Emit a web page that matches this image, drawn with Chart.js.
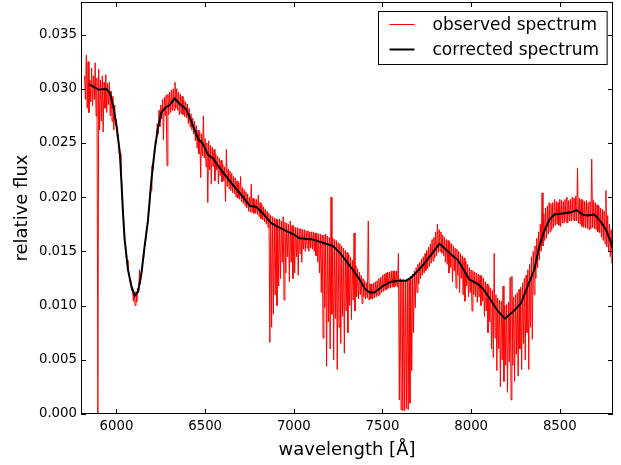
<!DOCTYPE html>
<html>
<head>
<meta charset="utf-8">
<script src="https://cdn.jsdelivr.net/npm/chart.js@4.4.0/dist/chart.umd.min.js"></script>
<style>
  html, body { margin: 0; padding: 0; background: #fff; }
</style>
</head>
<body>
<canvas id="spec" width="621" height="465"></canvas>
<script>
// axis ticks
const xTicks = [6000, 6500, 7000, 7500, 8000, 8500];
const yTicks = [0.000, 0.005, 0.010, 0.015, 0.020, 0.025, 0.030, 0.035];

// corrected spectrum (black)
const corrWave = [5846, 5900, 5942, 5963, 5982, 6000, 6019, 6028, 6037, 6046,
    6065, 6084, 6103, 6122, 6141, 6159, 6178, 6197, 6216, 6234,
    6253, 6272, 6300, 6328, 6357, 6394, 6424, 6460, 6488, 6516,
    6544, 6572, 6610, 6648, 6704, 6752, 6789, 6826, 6873, 6930,
    6995, 7033, 7108, 7164, 7220, 7258, 7296, 7333, 7371, 7399,
    7427, 7455, 7502, 7549, 7596, 7634, 7662, 7699, 7737, 7775,
    7821, 7850, 7887, 7925, 7962, 7990, 8037, 8065, 8103, 8150,
    8190, 8234, 8281, 8319, 8356, 8385, 8413, 8441, 8469, 8516,
    8563, 8595, 8629, 8657, 8695, 8723, 8761, 8789, 8800];
const corrFlux = [0.0304, 0.0299, 0.0300, 0.0296, 0.0284, 0.0266, 0.0241, 0.0214, 0.0185, 0.0161,
    0.0133, 0.0118, 0.0109, 0.0113, 0.0130, 0.0155, 0.0179, 0.0216, 0.0244, 0.0264,
    0.0278, 0.0282, 0.0285, 0.0291, 0.0286, 0.0281, 0.0269, 0.0254, 0.0249, 0.0239,
    0.0236, 0.0229, 0.0221, 0.0213, 0.0202, 0.0192, 0.0191, 0.0185, 0.0176, 0.0171,
    0.0166, 0.0162, 0.0161, 0.0158, 0.0155, 0.0149, 0.0141, 0.0133, 0.0124, 0.0116,
    0.0112, 0.0112, 0.0118, 0.0122, 0.0123, 0.0123, 0.0126, 0.0132, 0.0139, 0.0147,
    0.0157, 0.0153, 0.0147, 0.0142, 0.0132, 0.0124, 0.0120, 0.0116, 0.0107, 0.0095,
    0.0088, 0.0094, 0.0102, 0.0118, 0.0133, 0.0155, 0.0169, 0.0179, 0.0184, 0.0185,
    0.0186, 0.0188, 0.0184, 0.0183, 0.0184, 0.0179, 0.0170, 0.0158, 0.0152];

// observed spectrum (red): upper and lower envelope per 10 A bin, from 5820 A
// one row = 100 A
const obsStart = 5820;
const obsStep = 10;
const obsHigh = [
    0.0312, 0.0331, 0.0325, 0.0308, 0.0319, 0.0312, 0.0324, 0.0310, 0.0318, 0.0308,
    0.0312, 0.0306, 0.0313, 0.0305, 0.0306, 0.0298, 0.0293, 0.0285, 0.0272, 0.0258,
    0.0240, 0.0212, 0.0180, 0.0157, 0.0142, 0.0131, 0.0123, 0.0117, 0.0112, 0.0113,
    0.0116, 0.0133, 0.0131, 0.0145, 0.0158, 0.0171, 0.0186, 0.0205, 0.0229, 0.0237,
    0.0253, 0.0268, 0.0280, 0.0285, 0.0290, 0.0292, 0.0294, 0.0295, 0.0297, 0.0299,
    0.0300, 0.0306, 0.0300, 0.0297, 0.0295, 0.0293, 0.0290, 0.0288, 0.0286, 0.0282,
    0.0277, 0.0273, 0.0270, 0.0266, 0.0262, 0.0260, 0.0258, 0.0275, 0.0254, 0.0250,
    0.0252, 0.0248, 0.0246, 0.0244, 0.0240, 0.0238, 0.0236, 0.0234, 0.0230, 0.0228,
    0.0244, 0.0226, 0.0224, 0.0222, 0.0219, 0.0218, 0.0215, 0.0213, 0.0219, 0.0209,
    0.0207, 0.0205, 0.0203, 0.0200, 0.0212, 0.0199, 0.0198, 0.0198, 0.0202, 0.0195,
    0.0193, 0.0191, 0.0189, 0.0187, 0.0185, 0.0183, 0.0182, 0.0181, 0.0180, 0.0179,
    0.0180, 0.0178, 0.0182, 0.0177, 0.0176, 0.0175, 0.0178, 0.0174, 0.0173, 0.0172,
    0.0172, 0.0171, 0.0171, 0.0170, 0.0170, 0.0169, 0.0169, 0.0168, 0.0168, 0.0168,
    0.0167, 0.0167, 0.0166, 0.0166, 0.0165, 0.0165, 0.0166, 0.0164, 0.0163, 0.0200,
    0.0162, 0.0161, 0.0160, 0.0158, 0.0157, 0.0155, 0.0153, 0.0151, 0.0149, 0.0147,
    0.0145, 0.0142, 0.0167, 0.0137, 0.0134, 0.0131, 0.0128, 0.0125, 0.0123, 0.0121,
    0.0178, 0.0120, 0.0120, 0.0121, 0.0122, 0.0123, 0.0125, 0.0126, 0.0128, 0.0129,
    0.0130, 0.0131, 0.0131, 0.0132, 0.0132, 0.0132, 0.0132, 0.0148, 0.0125, 0.0124,
    0.0124, 0.0123, 0.0124, 0.0125, 0.0127, 0.0129, 0.0132, 0.0135, 0.0138, 0.0140,
    0.0143, 0.0145, 0.0148, 0.0151, 0.0154, 0.0157, 0.0161, 0.0163, 0.0168, 0.0175,
    0.0170, 0.0168, 0.0165, 0.0163, 0.0161, 0.0160, 0.0158, 0.0157, 0.0155, 0.0153,
    0.0152, 0.0150, 0.0148, 0.0146, 0.0144, 0.0141, 0.0138, 0.0135, 0.0133, 0.0132,
    0.0131, 0.0130, 0.0129, 0.0128, 0.0127, 0.0125, 0.0122, 0.0120, 0.0118, 0.0116,
    0.0114, 0.0148, 0.0110, 0.0107, 0.0105, 0.0104, 0.0118, 0.0100, 0.0101, 0.0103,
    0.0126, 0.0127, 0.0108, 0.0110, 0.0112, 0.0115, 0.0117, 0.0121, 0.0125, 0.0128,
    0.0133, 0.0138, 0.0145, 0.0150, 0.0155, 0.0162, 0.0168, 0.0175, 0.0204, 0.0185,
    0.0190, 0.0192, 0.0195, 0.0194, 0.0195, 0.0198, 0.0196, 0.0195, 0.0198, 0.0197,
    0.0196, 0.0198, 0.0200, 0.0197, 0.0198, 0.0200, 0.0199, 0.0201, 0.0227, 0.0199,
    0.0198, 0.0197, 0.0196, 0.0197, 0.0195, 0.0196, 0.0235, 0.0197, 0.0195, 0.0193,
    0.0192, 0.0190, 0.0189, 0.0187, 0.0206, 0.0183, 0.0175, 0.0170, 0.0165];
const obsLow = [
    0.0290, 0.0282, 0.0278, 0.0288, 0.0284, 0.0290, 0.0275, 0.0000, 0.0262, 0.0270,
    0.0260, 0.0282, 0.0278, 0.0285, 0.0275, 0.0270, 0.0262, 0.0266, 0.0255, 0.0240,
    0.0222, 0.0190, 0.0162, 0.0145, 0.0132, 0.0122, 0.0114, 0.0104, 0.0100, 0.0103,
    0.0112, 0.0120, 0.0132, 0.0147, 0.0160, 0.0173, 0.0188, 0.0206, 0.0225, 0.0240,
    0.0250, 0.0258, 0.0265, 0.0272, 0.0253, 0.0275, 0.0229, 0.0276, 0.0278, 0.0280,
    0.0280, 0.0282, 0.0280, 0.0276, 0.0277, 0.0276, 0.0274, 0.0273, 0.0268, 0.0265,
    0.0262, 0.0258, 0.0252, 0.0245, 0.0240, 0.0218, 0.0238, 0.0236, 0.0228, 0.0195,
    0.0225, 0.0212, 0.0228, 0.0215, 0.0225, 0.0212, 0.0220, 0.0214, 0.0215, 0.0196,
    0.0210, 0.0208, 0.0206, 0.0204, 0.0203, 0.0200, 0.0199, 0.0198, 0.0196, 0.0194,
    0.0192, 0.0190, 0.0187, 0.0186, 0.0186, 0.0185, 0.0185, 0.0184, 0.0182, 0.0180,
    0.0179, 0.0177, 0.0175, 0.0172, 0.0066, 0.0080, 0.0092, 0.0110, 0.0100, 0.0118,
    0.0125, 0.0140, 0.0105, 0.0130, 0.0145, 0.0122, 0.0140, 0.0125, 0.0130, 0.0145,
    0.0128, 0.0148, 0.0140, 0.0152, 0.0150, 0.0153, 0.0150, 0.0153, 0.0152, 0.0150,
    0.0146, 0.0140, 0.0130, 0.0112, 0.0070, 0.0098, 0.0044, 0.0085, 0.0060, 0.0092,
    0.0050, 0.0088, 0.0041, 0.0080, 0.0065, 0.0090, 0.0056, 0.0095, 0.0075, 0.0100,
    0.0087, 0.0105, 0.0095, 0.0108, 0.0106, 0.0110, 0.0102, 0.0108, 0.0106, 0.0107,
    0.0105, 0.0106, 0.0106, 0.0107, 0.0108, 0.0109, 0.0110, 0.0112, 0.0113, 0.0114,
    0.0115, 0.0116, 0.0116, 0.0117, 0.0117, 0.0118, 0.0117, 0.0013, 0.0004, 0.0003,
    0.0003, 0.0005, 0.0004, 0.0010, 0.0040, 0.0075, 0.0098, 0.0112, 0.0120, 0.0125,
    0.0128, 0.0130, 0.0132, 0.0134, 0.0136, 0.0139, 0.0141, 0.0144, 0.0146, 0.0149,
    0.0150, 0.0148, 0.0146, 0.0140, 0.0138, 0.0130, 0.0135, 0.0122, 0.0132, 0.0116,
    0.0128, 0.0112, 0.0125, 0.0110, 0.0104, 0.0118, 0.0108, 0.0112, 0.0095, 0.0110,
    0.0108, 0.0103, 0.0108, 0.0100, 0.0104, 0.0090, 0.0095, 0.0075, 0.0085, 0.0060,
    0.0052, 0.0070, 0.0040, 0.0060, 0.0025, 0.0050, 0.0030, 0.0045, 0.0020, 0.0048,
    0.0013, 0.0045, 0.0030, 0.0055, 0.0035, 0.0060, 0.0041, 0.0065, 0.0050, 0.0075,
    0.0041, 0.0080, 0.0069, 0.0110, 0.0125, 0.0135, 0.0142, 0.0150, 0.0155, 0.0160,
    0.0162, 0.0166, 0.0168, 0.0170, 0.0172, 0.0174, 0.0175, 0.0174, 0.0173, 0.0176,
    0.0176, 0.0177, 0.0176, 0.0178, 0.0178, 0.0179, 0.0178, 0.0178, 0.0176, 0.0175,
    0.0173, 0.0172, 0.0172, 0.0171, 0.0170, 0.0171, 0.0172, 0.0171, 0.0170, 0.0168,
    0.0167, 0.0163, 0.0160, 0.0157, 0.0154, 0.0150, 0.0145, 0.0139, 0.0140];

// high value at bin start, low value half a bin later, so the trace zigzags
const obsPoints = [];
obsHigh.forEach((hi, i) => {
    const w = obsStart + i * obsStep;
    obsPoints.push({ x: w, y: hi });
    obsPoints.push({ x: w + obsStep / 2, y: obsLow[i] });
});
const corrPoints = corrWave.map((w, i) => ({ x: w, y: corrFlux[i] }));

const FONT = 'DejaVu Sans';

// matplotlib-like frame with inward ticks on all four sides
const frameTicks = {
    id: 'frameTicks',
    afterDatasetsDraw(chart) {
        const { ctx, chartArea: a, scales } = chart;
        ctx.save();
        ctx.strokeStyle = '#000';
        ctx.lineWidth = 1;
        ctx.strokeRect(a.left + 0.5, a.top + 0.5, a.right - a.left - 1, a.bottom - a.top - 1);
        ctx.beginPath();
        xTicks.forEach(v => {
            const px = Math.round(scales.x.getPixelForValue(v)) + 0.5;
            ctx.moveTo(px, a.bottom); ctx.lineTo(px, a.bottom - 5);
            ctx.moveTo(px, a.top); ctx.lineTo(px, a.top + 5);
        });
        yTicks.forEach(v => {
            const py = Math.round(scales.y.getPixelForValue(v)) + 0.5;
            ctx.moveTo(a.left, py); ctx.lineTo(a.left + 5, py);
            ctx.moveTo(a.right, py); ctx.lineTo(a.right - 5, py);
        });
        ctx.stroke();
        ctx.restore();
    }
};

// legend box in the upper right corner of the plot
const boxLegend = {
    id: 'boxLegend',
    afterDraw(chart) {
        const { ctx, chartArea: a } = chart;
        const sets = chart.data.datasets;
        ctx.save();
        ctx.font = '17px "' + FONT + '"';
        const textW = Math.max(...sets.map(d => ctx.measureText(d.label).width));
        const boxW = 11 + 25 + 18 + textW + 8;
        const boxH = 53;
        const bx = Math.round(a.right - 6 - boxW) + 0.5;
        const by = Math.round(a.top + 9) + 0.5;
        ctx.fillStyle = '#fff';
        ctx.fillRect(bx, by, boxW, boxH);
        ctx.strokeStyle = '#000';
        ctx.lineWidth = 1;
        ctx.strokeRect(bx, by, boxW, boxH);
        ctx.textBaseline = 'middle';
        sets.forEach((d, i) => {
            const ry = by + 13 + i * 25;
            ctx.strokeStyle = d.borderColor;
            ctx.lineWidth = d.borderWidth;
            ctx.beginPath();
            ctx.moveTo(bx + 11, ry);
            ctx.lineTo(bx + 36, ry);
            ctx.stroke();
            ctx.fillStyle = '#000';
            ctx.fillText(d.label, bx + 54, ry + 1);
        });
        ctx.restore();
    }
};

new Chart(document.getElementById('spec'), {
    type: 'line',
    data: {
        datasets: [{
            label: 'observed spectrum',
            data: obsPoints,
            borderColor: '#ff0000',
            borderWidth: 1,
            pointRadius: 0,
            tension: 0,
            order: 2
        }, {
            label: 'corrected spectrum',
            data: corrPoints,
            borderColor: '#000000',
            borderWidth: 2,
            pointRadius: 0,
            tension: 0,
            order: 1
        }]
    },
    options: {
        responsive: false,
        animation: false,
        events: [],
        layout: { padding: { left: 0, right: 8, top: 2, bottom: 0 } },
        plugins: {
            legend: { display: false },
            tooltip: { enabled: false }
        },
        scales: {
            x: {
                type: 'linear',
                min: 5800,
                max: 8800,
                grid: { display: false, drawTicks: false },
                border: { display: false },
                afterBuildTicks: s => { s.ticks = xTicks.map(v => ({ value: v })); },
                afterFit: s => { s.height = 51; s.paddingLeft = 0; s.paddingRight = 0; },
                ticks: {
                    color: '#000',
                    padding: 5,
                    maxRotation: 0,
                    font: { family: FONT, size: 13.3 },
                    callback: v => String(v)
                },
                title: {
                    display: true,
                    text: 'wavelength [Å]',
                    color: '#000',
                    font: { family: FONT, size: 18 },
                    padding: { top: 0, bottom: 4 }
                }
            },
            y: {
                min: 0,
                max: 0.038,
                grid: { display: false, drawTicks: false },
                border: { display: false },
                afterBuildTicks: s => { s.ticks = yTicks.map(v => ({ value: v })); },
                afterFit: s => { s.width = 81; s.paddingTop = 0; s.paddingBottom = 0; },
                ticks: {
                    color: '#000',
                    padding: 4,
                    font: { family: FONT, size: 13.3 },
                    callback: v => v.toFixed(3)
                },
                title: {
                    display: true,
                    text: 'relative flux',
                    color: '#000',
                    font: { family: FONT, size: 18 },
                    padding: { top: 12, bottom: 0 }
                }
            }
        }
    },
    plugins: [frameTicks, boxLegend]
});
</script>
</body>
</html>
